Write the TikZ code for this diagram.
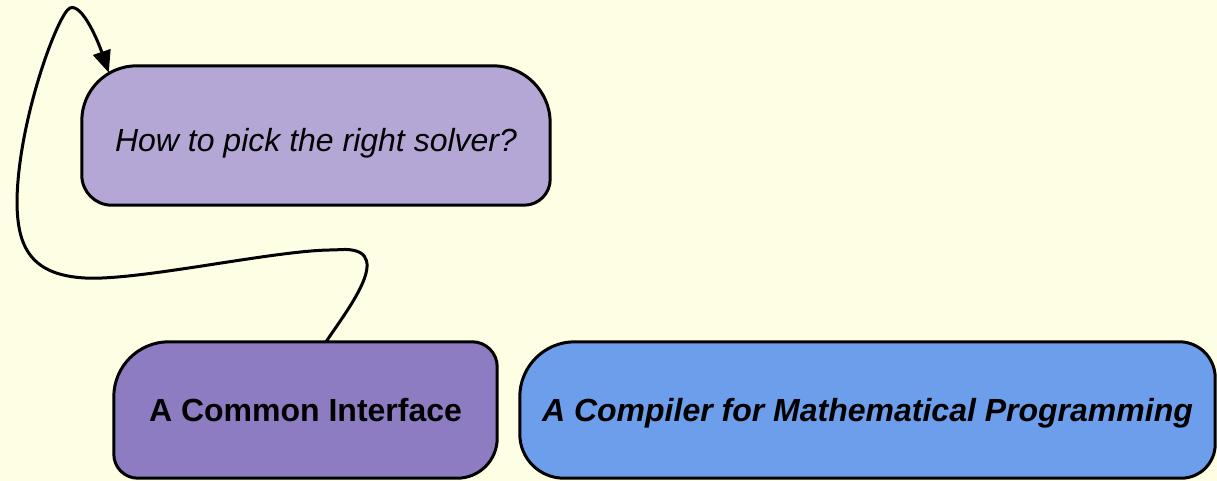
\documentclass[tikz,border=0pt]{standalone}
\usepackage{fontspec}
\setmainfont{Liberation Sans}
\usetikzlibrary{arrows.meta,calc}
\pgfdeclarelayer{back}
\pgfdeclarelayer{bg}
\pgfsetlayers{back,bg,main}
\definecolor{bgc}{HTML}{FEFEE4}
\definecolor{solverc}{HTML}{B4A7D6}
\definecolor{commonc}{HTML}{8E7CC3}
\definecolor{compc}{HTML}{6D9EEB}
\newcommand\boxshape[6]{%
\begin{pgfonlayer}{bg}
\path[#2] let \p1=(#1.north west), \p2=(#1.south east) in
 (\x1+#3pt,\y1) -- (\x2-#4pt,\y1) arc[start angle=90,end angle=0,radius=#4pt]
 -- (\x2,\y2+#5pt) arc[start angle=0,end angle=-90,radius=#5pt]
 -- (\x1+#6pt,\y2) arc[start angle=270,end angle=180,radius=#6pt]
 -- (\x1,\y1-#3pt) arc[start angle=180,end angle=90,radius=#3pt] -- cycle;
\end{pgfonlayer}}
\tikzset{
  boxtext/.style={inner sep=0pt, font=\fontsize{32}{38}\selectfont},
  outline/.style={draw=black, line width=3pt},
  conn/.style={draw=black, line width=3pt, -{Triangle[length=22pt,width=18pt]}}
}
\begin{document}
\begin{tikzpicture}[x=1pt,y=1pt]
\begin{pgfonlayer}{back}
\fill[bgc] (0,0) rectangle (1217,481);
\end{pgfonlayer}
\useasboundingbox (0,0) rectangle (1217,481);
\node[boxtext, text height=40pt, text depth=7pt, minimum width=468pt, minimum height=139pt] (sv) at (316,345.5) {\itshape How to pick the right solver?};
\node[boxtext, text height=34pt, text depth=10pt, minimum width=383pt, minimum height=136pt] (ci) at (305.5,71) {\bfseries A Common Interface};
\node[boxtext, text height=34pt, text depth=10pt, minimum width=695pt, minimum height=136pt] (cp) at (867.5,71) {\bfseries\itshape A Compiler for Mathematical Programming};
\boxshape{sv}{outline,fill=solverc}{55}{57}{26}{30}
\boxshape{ci}{outline,fill=commonc}{55}{25}{40}{24}
\boxshape{cp}{outline,fill=compc}{55}{36}{34}{44}
\coordinate (tip) at ([shift={(27pt,-7pt)}]sv.north west);
\coordinate (start) at ([shift={(20.5pt,0pt)}]ci.north);
\draw[conn] (start) .. controls (350,175) and (400,238) .. (335,231)
  .. controls (280,232) and (140,200) .. (85,203)
  .. controls (30,206) and (17,235) .. (17,280)
  .. controls (18,360) and (58,468) .. (70,473)
  .. controls (82,478) and (98,440) .. (tip);
\end{tikzpicture}
\end{document}
